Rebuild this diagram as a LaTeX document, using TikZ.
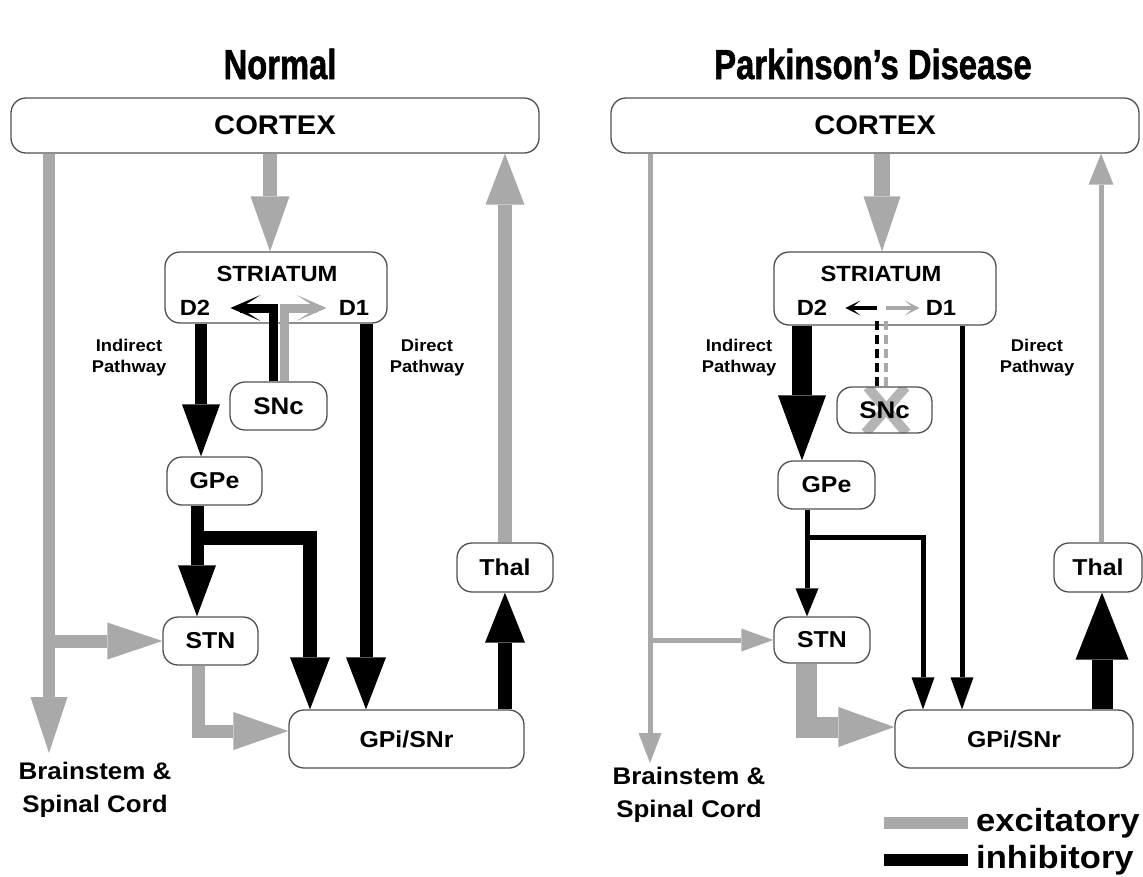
\documentclass[tikz,border=0pt]{standalone}
\usepackage{fontspec}
\setmainfont{Liberation Sans}[FakeStretch=1.08]
\newfontfamily\titlefont{Liberation Sans}[FakeStretch=0.78,FakeBold=1.2]
\usetikzlibrary{arrows.meta}
\definecolor{excgray}{HTML}{A9A9A9}
\definecolor{xgray}{HTML}{B4B4B4}
\definecolor{boxline}{HTML}{505050}
\tikzset{
  region/.style={draw=boxline, line width=1.3pt, rounded corners=15pt, fill=white, inner sep=0pt,
    font=\bfseries\fontsize{23}{25}\selectfont},
  lbl/.style 2 args={font=\bfseries\fontsize{#1}{#2}\selectfont, align=center, inner sep=0pt},
  ttl/.style={font=\titlefont\bfseries\fontsize{42}{42}\selectfont, inner sep=0pt},
  exc/.style={draw=excgray, line width=#1pt},
  inh/.style={draw=black, line width=#1pt},
  arrowhd/.style 2 args={-{Triangle[length=#1pt,width=#2pt,line width=0pt]}},
  bigbarb/.style={-{Stealth[length=30pt,width=26pt,inset=20pt,line width=0pt]}},
  smallbarb/.style={-{Stealth[length=15pt,width=15pt,inset=9pt,line width=0pt]}},
}

\begin{document}
\begin{tikzpicture}[x=1pt,y=-1pt]
\useasboundingbox[fill=white] (0,0) rectangle (1143,876);

\node[ttl] (ttlL) at (280,64) {Normal};
\node[ttl] (ttlR) at (873,64) {Parkinson’s Disease};

% Normal
\node[region, minimum width=528pt, minimum height=55pt, font=\bfseries\fontsize{27}{27}\selectfont] (cortexL) at (275,125.5) {CORTEX};
\node[region, minimum width=222pt, minimum height=71pt] (striL) at (276,287.5) {};
\node[lbl={22}{22}] (striLt) at (277,274) {STRIATUM};
\node[lbl={22}{22}] (d2L) at (195,308) {D2};
\node[lbl={22}{22}] (d1L) at (354,308) {D1};
\node[region, minimum width=97pt, minimum height=48pt, font=\bfseries\fontsize{24}{24}\selectfont] (sncL) at (278.5,406) {SNc};
\node[region, minimum width=95pt, minimum height=48pt] (gpeL) at (214.5,481) {GPe};
\node[region, minimum width=95pt, minimum height=48pt] (stnL) at (210.5,641) {STN};
\node[region, minimum width=96pt, minimum height=49pt] (thalL) at (505,567.5) {Thal};
\node[region, minimum width=235pt, minimum height=58pt] (gpiL) at (406.5,739) {GPi/SNr};
\node[lbl={17}{21}] (indL) at (129,358) {Indirect\\Pathway};
\node[lbl={17}{21}] (dirL) at (427,358) {Direct\\Pathway};
\node[lbl={24}{33}] (bsL) at (95,790) {Brainstem \&\\Spinal Cord};
\coordinate (stemL) at (49,753);

\draw[exc=12, arrowhd={56}{37}] (cortexL.south -| stemL) -- (stemL);
\draw[exc=13, arrowhd={55}{37}] (stemL |- stnL.west) -- (stnL.west);
\draw[exc=14, arrowhd={55}{39}] ([xshift=-6pt]striL.north |- cortexL.south) -- ([xshift=-6pt]striL.north);
\draw[exc=14, arrowhd={51}{39}] (thalL.north) -- (thalL.north |- cortexL.south);
\draw[exc=9, bigbarb] ([xshift=6pt]sncL.north) |- ([xshift=-12pt]d1L.west);
\draw[inh=9, bigbarb] ([xshift=-5pt]sncL.north) |- ([xshift=20pt]d2L.east);
\draw[inh=12, arrowhd={52}{38}] ([xshift=6pt]d2L |- striL.south) -- ([xshift=6pt]d2L |- gpeL.north);
\draw[inh=13, arrowhd={52}{40}] ([xshift=12pt]d1L |- striL.south) -- ([xshift=12pt]d1L |- gpiL.north);
\draw[inh=14, arrowhd={52}{40}] ([xshift=-24pt,yshift=-32pt]gpeL.south) -| ([xshift=-96.5pt]gpiL.north);
\draw[inh=13, arrowhd={51}{38}] ([xshift=-17.5pt]gpeL.south) -- ([xshift=-17.5pt]gpeL.south |- stnL.north);
\draw[exc=13, arrowhd={55}{38}] ([xshift=-12.5pt]stnL.south) |- ([yshift=8pt]gpiL.west);
\draw[inh=14, arrowhd={50}{40}] (thalL.south |- gpiL.north) -- (thalL.south);

% Parkinson's disease
\node[region, minimum width=528pt, minimum height=55pt, font=\bfseries\fontsize{27}{27}\selectfont] (cortexR) at (875,125.5) {CORTEX};
\node[region, minimum width=222pt, minimum height=73pt] (striR) at (885,288.5) {};
\node[lbl={22}{22}] (striRt) at (881,274) {STRIATUM};
\node[lbl={22}{22}] (d2R) at (812,308) {D2};
\node[lbl={22}{22}] (d1R) at (941,308) {D1};
\node[region, minimum width=95pt, minimum height=46pt, font=\bfseries\fontsize{24}{24}\selectfont,
  path picture={\draw[xgray, line width=10pt]
    ([xshift=-17pt]path picture bounding box.north) -- ([xshift=22pt]path picture bounding box.south)
    ([xshift=21pt]path picture bounding box.north) -- ([xshift=-19pt]path picture bounding box.south);}] (sncR) at (884.5,410) {SNc};
\node[region, minimum width=97pt, minimum height=48pt] (gpeR) at (826.5,485) {GPe};
\node[region, minimum width=96pt, minimum height=46pt] (stnR) at (822,640) {STN};
\node[region, minimum width=88pt, minimum height=49pt] (thalR) at (1098,567.5) {Thal};
\node[region, minimum width=238pt, minimum height=58pt] (gpiR) at (1014,739) {GPi/SNr};
\node[lbl={17}{21}] (indR) at (739,358) {Indirect\\Pathway};
\node[lbl={17}{21}] (dirR) at (1037,358) {Direct\\Pathway};
\node[lbl={24}{33}] (bsR) at (689,795) {Brainstem \&\\Spinal Cord};
\coordinate (stemR) at (650,763);

\draw[exc=5, arrowhd={30}{23}] (cortexR.south -| stemR) -- (stemR);
\draw[exc=5, arrowhd={32}{23}] (stemR |- stnR.west) -- (stnR.west);
\draw[exc=16, arrowhd={55}{37}] ([xshift=-3pt]striR.north |- cortexR.south) -- ([xshift=-3pt]striR.north);
\draw[exc=5, arrowhd={31}{25}] ([xshift=3pt]thalR.north) -- ([xshift=3pt]thalR.north |- cortexR.south);
\draw[exc=4, dash pattern=on 9pt off 5pt] ([xshift=1.5pt]sncR.north) -- ([xshift=1.5pt,yshift=7pt]sncR.north |- striR.south);
\draw[inh=4, dash pattern=on 9pt off 5pt] ([xshift=-7.5pt]sncR.north) -- ([xshift=-7.5pt,yshift=7pt]sncR.north |- striR.south);
\draw[exc=3.5, smallbarb] ([xshift=1.5pt]sncR.north |- d1R) -- ([xshift=-6pt]d1R.west);
\draw[inh=3.5, smallbarb] ([xshift=-7.5pt]sncR.north |- d2R) -- ([xshift=18pt]d2R.east);
\draw[inh=20, arrowhd={65}{48}] ([xshift=-10pt]d2R |- striR.south) -- ([xshift=-10pt]d2R |- gpeR.north);
\draw[inh=5, arrowhd={32}{23}] ([xshift=21pt]d1R |- striR.south) -- ([xshift=21pt]d1R |- gpiR.north);
\draw[inh=5, arrowhd={32}{23}] ([xshift=-22pt,yshift=-28pt]gpeR.south) -| ([xshift=-91pt]gpiR.north);
\draw[inh=5, arrowhd={28}{23}] ([xshift=-19.5pt]gpeR.south) -- ([xshift=-19.5pt]gpeR.south |- stnR.north);
\draw[exc=21, arrowhd={56}{40}] ([xshift=-16pt]stnR.south) |- ([yshift=12pt]gpiR.west);
\draw[inh=21, arrowhd={67}{53}] ([xshift=4pt]thalR.south |- gpiR.north) -- ([xshift=4pt]thalR.south);

\node[lbl={32}{32}, anchor=west] (legExc) at (976,823) {excitatory};
\node[lbl={32}{32}, anchor=west] (legInh) at (976,860) {inhibitory};
\draw[exc=12] ([xshift=-92pt]legExc.west) -- ([xshift=-8pt]legExc.west);
\draw[inh=12] ([xshift=-92pt]legInh.west) -- ([xshift=-8pt]legInh.west);

\end{tikzpicture}
\end{document}
